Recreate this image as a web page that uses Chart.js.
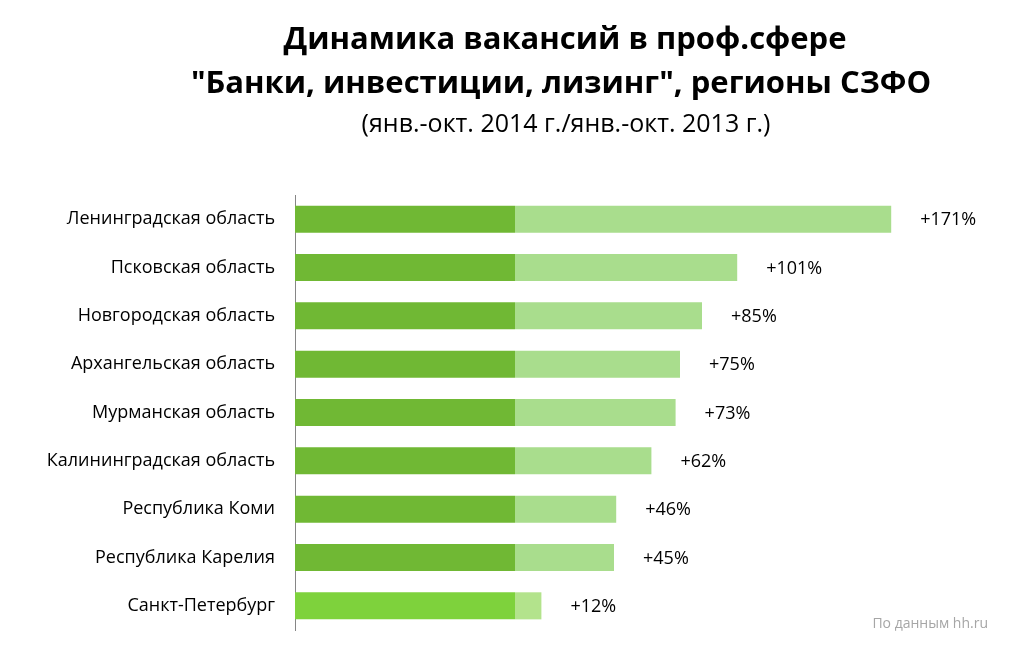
<!DOCTYPE html>
<html>
<head>
<meta charset="utf-8">
<script src="https://cdn.jsdelivr.net/npm/chart.js@4/dist/chart.umd.min.js"></script>
<style>
  html, body { margin: 0; padding: 0; background: #fff; }
  #wrap { width: 1009px; height: 650px; position: relative; }
</style>
</head>
<body>
<div id="wrap"><canvas id="bar-chart"></canvas></div>
<script>
var regions = [
  'Ленинградская область',
  'Псковская область',
  'Новгородская область',
  'Архангельская область',
  'Мурманская область',
  'Калининградская область',
  'Республика Коми',
  'Республика Карелия',
  'Санкт-Петербург'
];
// 2013 level taken as 100, growth in % on top of it
var baseValues = [100, 100, 100, 100, 100, 100, 100, 100, 100];
var growthValues = [171, 101, 85, 75, 73, 62, 46, 45, 12];

var titleLines = ['Динамика вакансий в проф.сфере', '"Банки, инвестиции, лизинг", регионы СЗФО'];
var subTitle = '(янв.-окт. 2014 г./янв.-окт. 2013 г.)';
var sourceNote = 'По данным hh.ru';

var baseColors = regions.map(function (r, i) { return i === regions.length - 1 ? '#7ed23c' : '#70b834'; });
var growthColors = regions.map(function (r, i) { return i === regions.length - 1 ? '#b3e38c' : '#a9dd8d'; });

var FONT = '"Open Sans", "DejaVu Sans", sans-serif';

// titles, value labels and the source note
var textPlugin = {
  id: 'texts',
  afterDatasetsDraw: function (chart) {
    var c = chart.ctx;
    c.save();
    c.fillStyle = '#000';
    c.textAlign = 'center';
    c.textBaseline = 'middle';
    c.font = 'bold 31px ' + FONT;
    c.fillText(titleLines[0], 565, 40);
    c.fillText(titleLines[1], 561, 84);
    c.font = '25px ' + FONT;
    c.fillText(subTitle, 566, 125);

    var meta = chart.getDatasetMeta(1);
    c.font = '18px ' + FONT;
    c.textAlign = 'left';
    meta.data.forEach(function (bar, i) {
      c.fillText('+' + growthValues[i] + '%', bar.x + 29, bar.y + 1);
    });

    c.fillStyle = '#a6a6a6';
    c.font = '14px ' + FONT;
    c.textAlign = 'right';
    c.fillText(sourceNote, 988, 624);
    c.restore();
  }
};

var ctx = document.getElementById('bar-chart');
new Chart(ctx, {
  type: 'bar',
  data: {
    labels: regions,
    datasets: [{
      data: baseValues,
      backgroundColor: baseColors,
      barPercentage: 0.56,
      categoryPercentage: 1
    }, {
      data: growthValues,
      backgroundColor: growthColors,
      barPercentage: 0.56,
      categoryPercentage: 1
    }]
  },
  options: {
    indexAxis: 'y',
    responsive: true,
    maintainAspectRatio: false,
    animation: false,
    layout: {
      padding: { top: 195, bottom: 20, right: 54, left: 0 }
    },
    plugins: {
      legend: { display: false },
      tooltip: { enabled: false }
    },
    scales: {
      x: {
        stacked: true,
        display: false,
        min: 0,
        max: 300
      },
      y: {
        stacked: true,
        grid: { display: false, drawTicks: false },
        border: { display: true, color: '#868686', width: 1 },
        ticks: {
          color: '#000',
          padding: 20,
          font: { family: FONT, size: 18 }
        },
        afterFit: function (scale) {
          scale.width = 295;
          scale.paddingTop = 0;
          scale.paddingBottom = 0;
        }
      }
    }
  },
  plugins: [textPlugin]
});
</script>
</body>
</html>
